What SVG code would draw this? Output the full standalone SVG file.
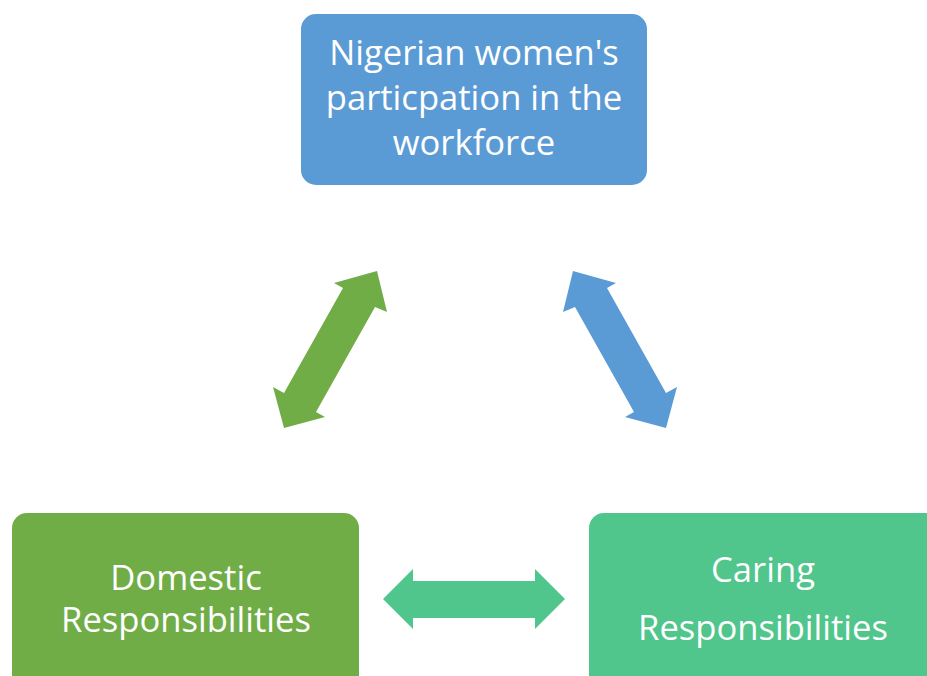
<svg xmlns="http://www.w3.org/2000/svg" width="927" height="676" viewBox="0 0 927 676">
  <style>
    .box-blue { fill: #5B9BD5; }
    .box-green { fill: #70AD47; }
    .box-teal { fill: #50C58C; }
    .label { font-family: "Open Sans", "Liberation Sans", sans-serif; font-size: 34.6px; fill: #FFFFFF; text-anchor: middle; }
  </style>
  <rect width="927" height="676" fill="#FFFFFF"/>

  <!-- two-headed connectors -->
  <g id="connectors">
    <polygon id="arrow-work-domestic" fill="#70AD47" points="377,271 387,312 375,307 316,412 325,417 284,428 273,387 284,393 343,288 334,283"/>
    <polygon id="arrow-work-caring" fill="#5B9BD5" points="573,271 563,312 575,307 634,412 625,417 666,428 677,387 666,393 607,288 616,283"/>
    <polygon id="arrow-domestic-caring" fill="#50C58C" points="383,599 413,569 413,581 535,581 535,569 565,599 535,629 535,618 413,618 413,629"/>
  </g>

  <g id="node-workforce">
    <rect class="box-blue" x="301" y="14" width="346" height="171" rx="15" ry="15"/>
    <text class="label" x="474" y="65">Nigerian women's</text>
    <text class="label" x="474" y="110">particpation in the</text>
    <text class="label" x="474" y="155">workforce</text>
  </g>

  <g id="node-domestic">
    <rect class="box-green" x="12" y="513" width="347" height="185" rx="15" ry="15"/>
    <text class="label" x="186" y="590">Domestic</text>
    <text class="label" x="186" y="632">Responsibilities</text>
  </g>

  <g id="node-caring">
    <rect class="box-teal" x="589" y="513" width="360" height="185" rx="15" ry="15"/>
    <text class="label" x="763" y="582">Caring</text>
    <text class="label" x="763" y="640">Responsibilities</text>
  </g>
</svg>
